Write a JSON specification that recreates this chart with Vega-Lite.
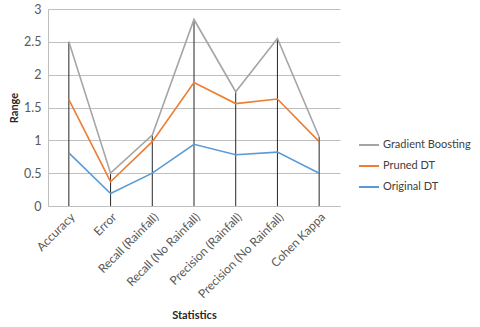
{
  "$schema": "https://vega.github.io/schema/vega-lite/v6.json",
  "width": 292,
  "height": 197,
  "autosize": "none",
  "padding": {"left": 48, "top": 9, "right": 140, "bottom": 121},
  "background": "white",
  "config": {
    "font": "Lato",
    "view": {"stroke": null},
    "axis": {"labelFont": "Lato", "titleFont": "Lato", "labelColor": "#595959", "titleColor": "#262626"}
  },
  "data": {
    "values": [
      {"Statistic": "Accuracy", "Model": "Gradient Boosting", "Value": 2.5},
      {"Statistic": "Error", "Model": "Gradient Boosting", "Value": 0.5},
      {"Statistic": "Recall (Rainfall)", "Model": "Gradient Boosting", "Value": 1.08},
      {"Statistic": "Recall (No Rainfall)", "Model": "Gradient Boosting", "Value": 2.84},
      {"Statistic": "Precision (Rainfall)", "Model": "Gradient Boosting", "Value": 1.74},
      {"Statistic": "Precision (No Rainfall)", "Model": "Gradient Boosting", "Value": 2.55},
      {"Statistic": "Cohen Kappa", "Model": "Gradient Boosting", "Value": 1.05},
      {"Statistic": "Accuracy", "Model": "Pruned DT", "Value": 1.62},
      {"Statistic": "Error", "Model": "Pruned DT", "Value": 0.37},
      {"Statistic": "Recall (Rainfall)", "Model": "Pruned DT", "Value": 0.98},
      {"Statistic": "Recall (No Rainfall)", "Model": "Pruned DT", "Value": 1.88},
      {"Statistic": "Precision (Rainfall)", "Model": "Pruned DT", "Value": 1.56},
      {"Statistic": "Precision (No Rainfall)", "Model": "Pruned DT", "Value": 1.63},
      {"Statistic": "Cohen Kappa", "Model": "Pruned DT", "Value": 0.98},
      {"Statistic": "Accuracy", "Model": "Original DT", "Value": 0.81},
      {"Statistic": "Error", "Model": "Original DT", "Value": 0.19},
      {"Statistic": "Recall (Rainfall)", "Model": "Original DT", "Value": 0.5},
      {"Statistic": "Recall (No Rainfall)", "Model": "Original DT", "Value": 0.94},
      {"Statistic": "Precision (Rainfall)", "Model": "Original DT", "Value": 0.78},
      {"Statistic": "Precision (No Rainfall)", "Model": "Original DT", "Value": 0.82},
      {"Statistic": "Cohen Kappa", "Model": "Original DT", "Value": 0.5}
    ]
  },
  "encoding": {
    "x": {
      "field": "Statistic", "type": "nominal", "sort": null,
      "scale": {"type": "point", "padding": 0.5},
      "axis": {
        "title": "Statistics", "titleFontSize": 11, "titleFontWeight": "bold", "titlePadding": 10,
        "labelAngle": -45, "labelFontSize": 12, "labelPadding": 5,
        "ticks": false, "domainColor": "#BFBFBF", "grid": false
      }
    },
    "y": {
      "field": "Value", "type": "quantitative",
      "scale": {"domain": [0, 3], "nice": false},
      "axis": {
        "title": "Range", "titleFontSize": 11, "titleFontWeight": "bold", "titlePadding": 4,
        "values": [0, 0.5, 1, 1.5, 2, 2.5, 3], "format": "~g", "labelFontSize": 12.5, "labelPadding": 7,
        "labelOverlap": false,
        "ticks": false, "domain": true, "domainColor": "#BFBFBF",
        "gridColor": "#BFBFBF"
      }
    }
  },
  "layer": [
    {
      "transform": [{"filter": "datum.Model === 'Gradient Boosting'"}],
      "mark": {"type": "rule", "color": "#262626", "strokeWidth": 1},
      "encoding": {
        "y2": {"datum": 0}
      }
    },
    {
      "mark": {"type": "line", "strokeWidth": 1.6},
      "encoding": {
        "color": {
          "field": "Model", "type": "nominal",
          "sort": ["Gradient Boosting", "Pruned DT", "Original DT"],
          "scale": {"domain": ["Gradient Boosting", "Pruned DT", "Original DT"], "range": ["#A5A5A5", "#ED7D31", "#5B9BD5"]},
          "legend": {
            "title": null, "orient": "none", "legendX": 310, "legendY": 125,
            "symbolType": "stroke", "symbolSize": 400, "symbolStrokeWidth": 2,
            "labelFontSize": 11, "labelColor": "#404040", "rowPadding": 5, "labelOffset": 3
          }
        }
      }
    }
  ]
}
